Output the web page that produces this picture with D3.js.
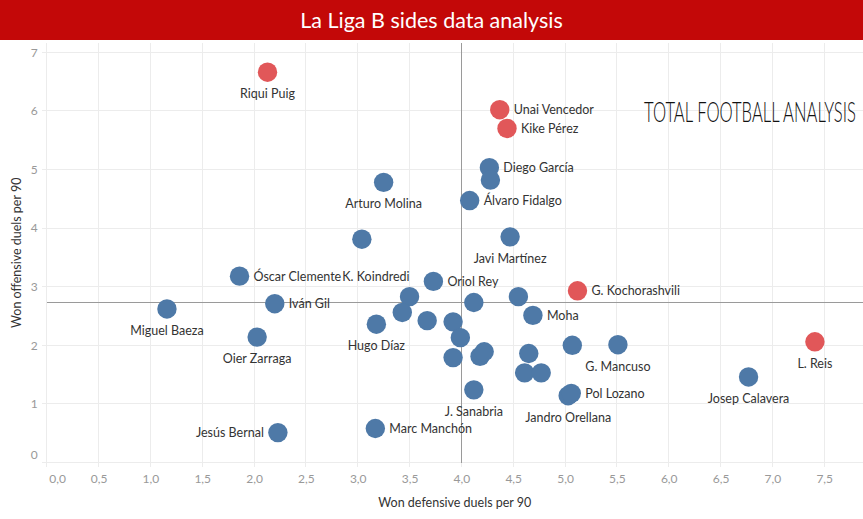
<!DOCTYPE html>
<html>
<head>
<meta charset="utf-8">
<script src="https://cdn.jsdelivr.net/npm/d3@7"></script>
<style>
  html, body { margin: 0; padding: 0; background: #fff; }
  svg { display: block; }
  text { font-family: Lato, "Open Sans", sans-serif; }
</style>
</head>
<body>
<svg id="chart" width="863" height="519"></svg>
<script>
// ---------- data ----------
const players = [
  "Riqui Puig", "Unai Vencedor", "Kike Pérez", "Diego García", "",
  "Álvaro Fidalgo", "Javi Martínez", "Arturo Molina", "", "Óscar Clemente",
  "K. Koindredi", "Oriol Rey", "Iván Gil", "Miguel Baeza", "Oier Zarraga",
  "Hugo Díaz", "", "", "", "",
  "", "Moha", "G. Kochorashvili", "", "G. Mancuso",
  "", "", "", "", "",
  "J. Sanabria", "Jandro Orellana", "Pol Lozano", "L. Reis", "Josep Calavera",
  "Jesús Bernal", "Marc Manchón", "", ""
];
const defensiveDuels = [
  2.13, 4.37, 4.44, 4.27, 4.28,
  4.08, 4.47, 3.25, 3.04, 1.86,
  3.50, 3.73, 2.20, 1.16, 2.03,
  3.18, 3.43, 3.67, 3.92, 3.99,
  4.12, 4.69, 5.12, 4.55, 5.51,
  5.07, 3.92, 4.18, 4.22, 4.65,
  4.12, 5.03, 5.06, 7.41, 6.77,
  2.23, 3.17, 4.61, 4.77
];
const offensiveDuels = [
  6.66, 6.02, 5.70, 5.03, 4.82,
  4.47, 3.85, 4.78, 3.81, 3.18,
  2.83, 3.09, 2.71, 2.62, 2.14,
  2.36, 2.56, 2.42, 2.40, 2.13,
  2.73, 2.51, 2.93, 2.83, 2.01,
  2.00, 1.79, 1.81, 1.89, 1.86,
  1.24, 1.14, 1.18, 2.06, 1.46,
  0.51, 0.58, 1.53, 1.53
];
const highlighted = [
  true, true, true, false, false,
  false, false, false, false, false,
  false, false, false, false, false,
  false, false, false, false, false,
  false, false, true, false, false,
  false, false, false, false, false,
  false, false, false, true, false,
  false, false, false, false
];
// label placement keyword per player
const labelPlacement = [
  "below", "right", "right", "right", "none",
  "right", "below", "below", "none", "right",
  "aboveLeft", "right", "right", "below", "below",
  "below", "none", "none", "none", "none",
  "none", "right", "right", "none", "below",
  "none", "none", "none", "none", "none",
  "below", "below", "right", "below", "below",
  "left", "right", "none", "none"
];
const xTicks = [0, 0.5, 1, 1.5, 2, 2.5, 3, 3.5, 4, 4.5, 5, 5.5, 6, 6.5, 7, 7.5];
const yTicks = [0, 1, 2, 3, 4, 5, 6, 7];
const avgDefensive = 4.0;
const avgOffensive = 2.73;
const title = "La Liga B sides data analysis";
const xTitle = "Won defensive duels per 90";
const yTitle = "Won offensive duels per 90";
const logoText = "TOTAL FOOTBALL ANALYSIS";

// ---------- layout ----------
const W = 863, H = 519;
const plot = { left: 46.7, right: 863, top: 43, bottom: 462.5 };
const svg = d3.select("#chart");

const x = d3.scaleLinear().domain([0, 7.874]).range([plot.left, plot.right]);
const y = d3.scaleLinear().domain([0, 7.158]).range([plot.bottom, plot.top]);

const fmt = v => d3.format(".1f")(v).replace(".", ",");

// title bar
svg.append("rect").attr("x", 0).attr("y", 0).attr("width", W).attr("height", 40)
  .attr("fill", "#c30808");
svg.append("text").attr("x", W / 2).attr("y", 27.5).attr("text-anchor", "middle")
  .attr("fill", "#fff").attr("font-size", 21.5).text(title);

// gridlines
const grid = svg.append("g");
grid.selectAll("line.v").data(xTicks).join("line")
  .attr("x1", d => x(d)).attr("x2", d => x(d))
  .attr("y1", plot.top).attr("y2", plot.bottom + 4)
  .attr("stroke", "#ececec").attr("stroke-width", 1).attr("shape-rendering", "crispEdges");
grid.selectAll("line.h").data(yTicks).join("line")
  .attr("y1", d => y(d)).attr("y2", d => y(d))
  .attr("x1", plot.left - 5).attr("x2", plot.right)
  .attr("stroke", "#ececec").attr("stroke-width", 1).attr("shape-rendering", "crispEdges");

// axes (labels via d3 axes)
const xAxis = svg.append("g").attr("transform", `translate(0,${plot.bottom})`)
  .call(d3.axisBottom(x).tickValues(xTicks).tickFormat(fmt).tickSize(0).tickPadding(12));
xAxis.select(".domain").remove();
xAxis.selectAll("text").attr("fill", "#999").attr("font-size", 12)
  .attr("font-family", "Lato, sans-serif");
xAxis.selectAll("text").filter(d => d === 0).attr("text-anchor", "start").attr("x", 2);

const yAxis = svg.append("g").attr("transform", `translate(${plot.left},0)`)
  .call(d3.axisLeft(y).tickValues(yTicks).tickFormat(d3.format("d")).tickSize(0).tickPadding(9));
yAxis.select(".domain").remove();
yAxis.selectAll("text").attr("fill", "#999").attr("font-size", 12)
  .attr("font-family", "Lato, sans-serif");
yAxis.selectAll("text").filter(d => d === 0).attr("dy", "-0.35em");

// axis titles
svg.append("text").attr("x", (plot.left + plot.right) / 2).attr("y", 507)
  .attr("text-anchor", "middle").attr("fill", "#333").attr("font-size", 12.5).text(xTitle);
svg.append("text").attr("transform", `translate(21,${(plot.top + plot.bottom) / 2}) rotate(-90)`)
  .attr("text-anchor", "middle").attr("fill", "#333").attr("font-size", 12.5).text(yTitle);

// reference lines
svg.append("line").attr("x1", x(avgDefensive)).attr("x2", x(avgDefensive))
  .attr("y1", plot.top).attr("y2", plot.bottom)
  .attr("stroke", "#9a9a9a").attr("stroke-width", 1).attr("shape-rendering", "crispEdges");
svg.append("line").attr("y1", y(avgOffensive)).attr("y2", y(avgOffensive))
  .attr("x1", plot.left).attr("x2", plot.right)
  .attr("stroke", "#9a9a9a").attr("stroke-width", 1).attr("shape-rendering", "crispEdges");

// logo (text rendition, squeezed horizontally to fit its box)
const logoG = svg.append("g");
const logoT = logoG.append("text").attr("x", 0).attr("y", 0)
  .attr("font-family", "'DejaVu Sans Condensed', 'DejaVu Sans', sans-serif")
  .attr("font-weight", 300).attr("font-size", 27).attr("fill", "#111")
  .text(logoText);
const natural = logoT.node().getComputedTextLength();
logoG.attr("transform", `translate(644,122) scale(${212 / natural},1)`);

// points
const data = players.map((name, i) => ({
  name, dx: defensiveDuels[i], oy: offensiveDuels[i], hi: highlighted[i], pos: labelPlacement[i]
}));
const r = 9.7;
svg.append("g").selectAll("circle").data(data).join("circle")
  .attr("cx", d => x(d.dx)).attr("cy", d => y(d.oy)).attr("r", r)
  .attr("fill", d => d.hi ? "#e15759" : "#4e79a7");

// labels
svg.append("g").selectAll("text").data(data.filter(d => d.name && d.pos !== "none")).join("text")
  .attr("fill", "#333").attr("font-size", 12.5)
  .text(d => d.name)
  .each(function (d) {
    const t = d3.select(this), cx = x(d.dx), cy = y(d.oy);
    if (d.pos === "right") t.attr("x", cx + 14).attr("y", cy + 4.5).attr("text-anchor", "start");
    else if (d.pos === "left") t.attr("x", cx - 14).attr("y", cy + 4.5).attr("text-anchor", "end");
    else if (d.pos === "below") t.attr("x", cx).attr("y", cy + 26).attr("text-anchor", "middle");
    else if (d.pos === "aboveLeft") t.attr("x", cx).attr("y", cy - 15.5).attr("text-anchor", "end");
  });
</script>
</body>
</html>
